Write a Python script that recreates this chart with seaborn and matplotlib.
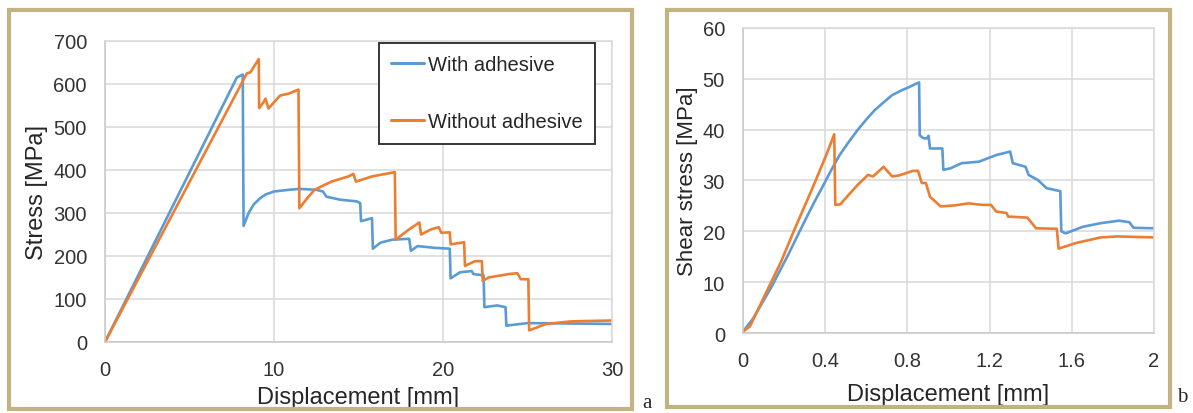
import matplotlib
matplotlib.use('Agg')
import matplotlib.pyplot as plt
import matplotlib.patches as patches
import numpy as np
import pandas as pd
import seaborn as sns

# (a) tensile test
a_with_x = [0, 7.8, 8.15, 8.2, 8.5, 8.8, 9.2, 9.5, 10.0, 10.9, 11.5, 12.5, 12.9, 13.1,
            13.9, 14.9, 15.1, 15.15, 15.8, 15.85, 16.3, 17.0, 18.0, 18.1, 18.5,
            19.5, 20.4, 20.45, 21.0, 21.7, 21.8, 22.4, 22.45, 23.2, 23.7, 23.75,
            25.0, 30.0]
a_with_y = [0, 615, 622, 270, 300, 320, 335, 343, 350, 354, 356, 354, 350, 338,
            331, 327, 323, 281, 288, 217, 231, 238, 240, 212, 223,
            219, 217, 148, 162, 165, 158, 155, 81, 85, 81, 38,
            44, 42]
a_without_x = [0, 8.4, 8.6, 9.1, 9.12, 9.37, 9.5, 9.67, 10.36, 10.9, 11.45, 11.5,
               12.0, 12.4, 13.4, 14.4, 14.7, 14.85, 15.8, 17.15, 17.2, 18.0, 18.6,
               18.7, 19.3, 19.75, 19.9, 20.4, 20.45, 21.25, 21.3, 21.9, 22.3,
               22.35, 22.7, 23.9, 24.4, 24.6, 25.05, 25.1, 26.1, 27.6, 30.0]
a_without_y = [0, 625, 627, 658, 544, 557, 566, 543, 573, 578, 587, 311,
               336, 354, 373, 385, 391, 373, 385, 395, 238, 262, 278,
               250, 262, 267, 254, 255, 227, 232, 177, 188, 188,
               142, 150, 158, 160, 146, 146, 27, 42, 48, 50]

# (b) shear test
b_with_x = [0, 0.05, 0.135, 0.22, 0.30, 0.345, 0.39, 0.43, 0.47, 0.515, 0.557,
            0.60, 0.64, 0.685, 0.726, 0.77, 0.81, 0.835, 0.857, 0.86, 0.878,
            0.895, 0.903, 0.91, 0.97, 0.975, 1.01, 1.063, 1.148, 1.232, 1.30,
            1.313, 1.375, 1.39, 1.435, 1.477, 1.544, 1.549, 1.57, 1.654, 1.74,
            1.83, 1.88, 1.90, 2.0]
b_with_y = [0.3, 2.9, 8.8, 15.4, 22.0, 25.6, 29.0, 32.1, 35.0, 37.6, 39.9,
            42.0, 43.8, 45.4, 46.8, 47.7, 48.4, 48.9, 49.3, 38.9, 38.3,
            38.3, 38.8, 36.3, 36.3, 32.1, 32.4, 33.4, 33.7, 35.0, 35.7,
            33.4, 32.7, 31.1, 30.1, 28.5, 27.9, 20.0, 19.6, 20.9, 21.6,
            22.1, 21.8, 20.7, 20.6]
b_without_x = [0, 0.034, 0.10, 0.186, 0.253, 0.338, 0.405, 0.444, 0.449, 0.473,
               0.557, 0.608, 0.633, 0.684, 0.726, 0.76, 0.827, 0.852, 0.87,
               0.89, 0.91, 0.962, 1.03, 1.097, 1.165, 1.207, 1.232, 1.283, 1.29,
               1.384, 1.426, 1.527, 1.536, 1.62, 1.74, 1.823, 2.0]
b_without_y = [0.3, 1.3, 6.9, 14.1, 20.6, 28.5, 35.0, 39.1, 25.2, 25.3,
               29.1, 31.1, 30.8, 32.7, 30.8, 31.0, 31.9, 31.9, 29.5,
               29.5, 26.8, 24.9, 25.1, 25.5, 25.2, 25.2, 23.9, 23.6, 22.9,
               22.7, 20.6, 20.5, 16.6, 17.7, 18.8, 19.0, 18.8]

labels = ['With adhesive', 'Without adhesive']
palette = {'With adhesive': '#5B9BD5', 'Without adhesive': '#ED7D31'}


def make_df(xw, yw, xo, yo):
    return pd.concat([
        pd.DataFrame({'x': xw, 'y': yw, 'series': labels[0]}),
        pd.DataFrame({'x': xo, 'y': yo, 'series': labels[1]}),
    ], ignore_index=True)


sns.set_style('white')
plt.rcParams['font.family'] = ['Liberation Sans', 'DejaVu Sans']

fig = plt.figure(figsize=(11.93, 4.14), dpi=100)
ax1 = fig.add_axes([0.088, 0.1715, 0.425, 0.7271])
ax2 = fig.add_axes([0.6228, 0.1932, 0.3445, 0.7368])

df_a = make_df(a_with_x, a_with_y, a_without_x, a_without_y)
df_b = make_df(b_with_x, b_with_y, b_without_x, b_without_y)

sns.lineplot(data=df_a, x='x', y='y', hue='series', palette=palette,
             estimator=None, sort=False, linewidth=1.9, ax=ax1)
sns.lineplot(data=df_b, x='x', y='y', hue='series', palette=palette,
             estimator=None, sort=False, linewidth=1.9, ax=ax2, legend=False)

ax1.set_xlim(0, 30)
ax1.set_ylim(0, 700)
ax1.set_xticks([0, 10, 20, 30])
ax1.set_yticks(np.arange(0, 701, 100))
ax1.set_xlabel('Displacement [mm]', fontsize=17, color='#262626', labelpad=5)
ax1.set_ylabel('Stress [MPa]', fontsize=17, color='#262626', labelpad=4)

ax2.set_xlim(0, 2)
ax2.set_ylim(0, 60)
ax2.set_xticks([0, 0.4, 0.8, 1.2, 1.6, 2])
ax2.set_xticklabels(['0', '0.4', '0.8', '1.2', '1.6', '2'])
ax2.set_yticks(np.arange(0, 61, 10))
ax2.set_xlabel('Displacement [mm]', fontsize=17, color='#262626', labelpad=9)
ax2.set_ylabel('Shear stress [MPa]', fontsize=16, color='#262626', labelpad=3)

for ax in (ax1, ax2):
    ax.grid(True, color='#D9D9D9', linewidth=1.1)
    ax.set_axisbelow(True)
    for s in ax.spines.values():
        s.set_color('#D9D9D9')
        s.set_linewidth(1.1)
    ax.spines['left'].set_color('#C8C8C8')
    ax.spines['bottom'].set_color('#C8C8C8')
    ax.tick_params(length=0, labelsize=14.5, labelcolor='#333333', pad=13)

leg = ax1.legend(loc='upper right', bbox_to_anchor=(0.966, 0.993),
                 borderaxespad=0, fontsize=14.5, frameon=True, fancybox=False,
                 handlelength=1.65, handletextpad=0.2, borderpad=0.6,
                 labelspacing=1.9)
leg.get_frame().set_edgecolor('#262626')
leg.get_frame().set_linewidth(1.3)
leg.get_frame().set_alpha(1)
for t in leg.get_texts():
    t.set_color('#262626')
for h in leg.get_lines():
    h.set_linewidth(2.2)

# panel frames
border = '#C2B383'
fig.add_artist(patches.Rectangle((0.0075, 0.0085), 0.5225, 0.966, transform=fig.transFigure,
                                 fill=False, edgecolor=border, linewidth=3))
fig.add_artist(patches.Rectangle((0.5595, 0.0135), 0.4215, 0.961, transform=fig.transFigure,
                                 fill=False, edgecolor=border, linewidth=3))
fig.text(0.5425, 0.003, 'a', fontsize=15, family=['Liberation Serif', 'DejaVu Serif'],
         color='#262626', ha='center', va='bottom')
fig.text(0.991, 0.018, 'b', fontsize=15, family=['Liberation Serif', 'DejaVu Serif'],
         color='#262626', ha='center', va='bottom')

fig.savefig('out.png', dpi=100)
